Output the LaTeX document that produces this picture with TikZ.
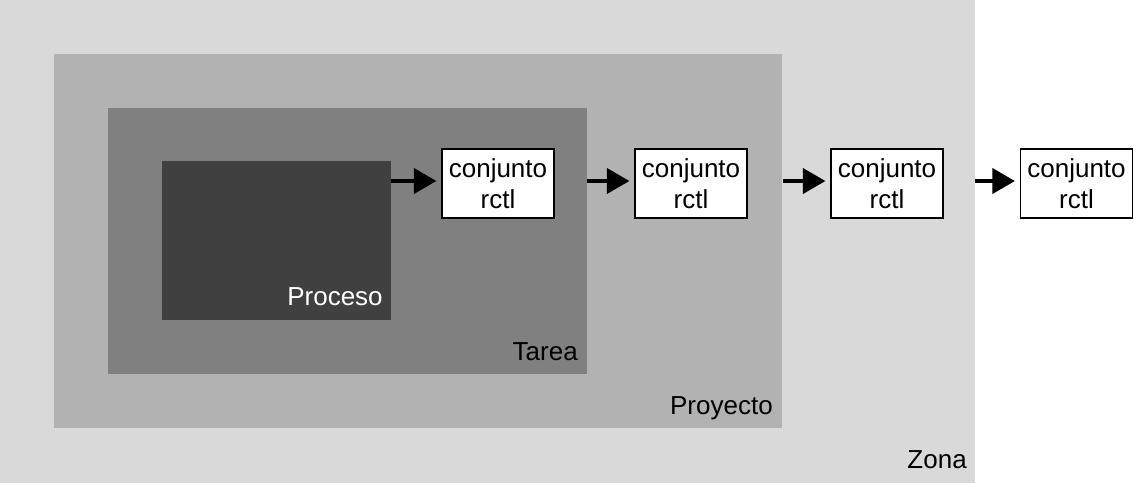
\documentclass[tikz,border=0pt]{standalone}
\usepackage{fontspec}
\setmainfont{Liberation Sans}
\usetikzlibrary{arrows.meta}
\tikzset{
  region/.style={fill=#1,draw=none,inner sep=0pt,outer sep=0pt},
  rctlbox/.style={draw,line width=1pt,fill=white,inner sep=0pt,
    minimum width=2.8cm,minimum height=1.725cm,align=center,
    font=\fontsize{18.5}{22}\selectfont},
  etiq/.style={anchor=base east,inner sep=0pt,font=\fontsize{18.5}{22}\selectfont},
  flecha/.style={line width=2.2pt,-{Triangle[length=16pt,width=18pt]},shorten >=3.5pt}
}
\begin{document}
\begin{tikzpicture}[x=0.025cm,y=-0.025cm]
 \useasboundingbox (0,0) rectangle (1134,483);
 % zonas anidadas
 \path[region={black!15}] (0,0) rectangle (975,483);
 \path[region={black!30}] (54,54) rectangle (782,428);
 \path[region={black!50}] (108,108) rectangle (587,374);
 \path[region={black!75}] (162,161) rectangle (391,320);
 \node[etiq] (zona) at (967,468) {Zona};
 \node[etiq] (proyecto) at (773,414) {Proyecto};
 \node[etiq] (tarea) at (578,360) {Tarea};
 \node[etiq,white] (proceso) at (383,305) {Proceso};
 % conjuntos rctl
 \node[rctlbox] (rctl1) at (498,183.5) {conjunto\\rctl};
 \node[rctlbox] (rctl2) at (691,183.5) {conjunto\\rctl};
 \node[rctlbox] (rctl3) at (887,183.5) {conjunto\\rctl};
 \node[rctlbox] (rctl4) at (1076.5,183.5) {conjunto\\rctl};
 \coordinate (c1) at (391,181); \coordinate (c2) at (587,181);
 \coordinate (c3) at (783,181); \coordinate (c4) at (975,181);
 \draw[flecha] (c1) -- (c1 -| rctl1.west);
 \draw[flecha] (c2) -- (c2 -| rctl2.west);
 \draw[flecha] (c3) -- (c3 -| rctl3.west);
 \draw[flecha] (c4) -- (c4 -| rctl4.west);
\end{tikzpicture}
\end{document}
